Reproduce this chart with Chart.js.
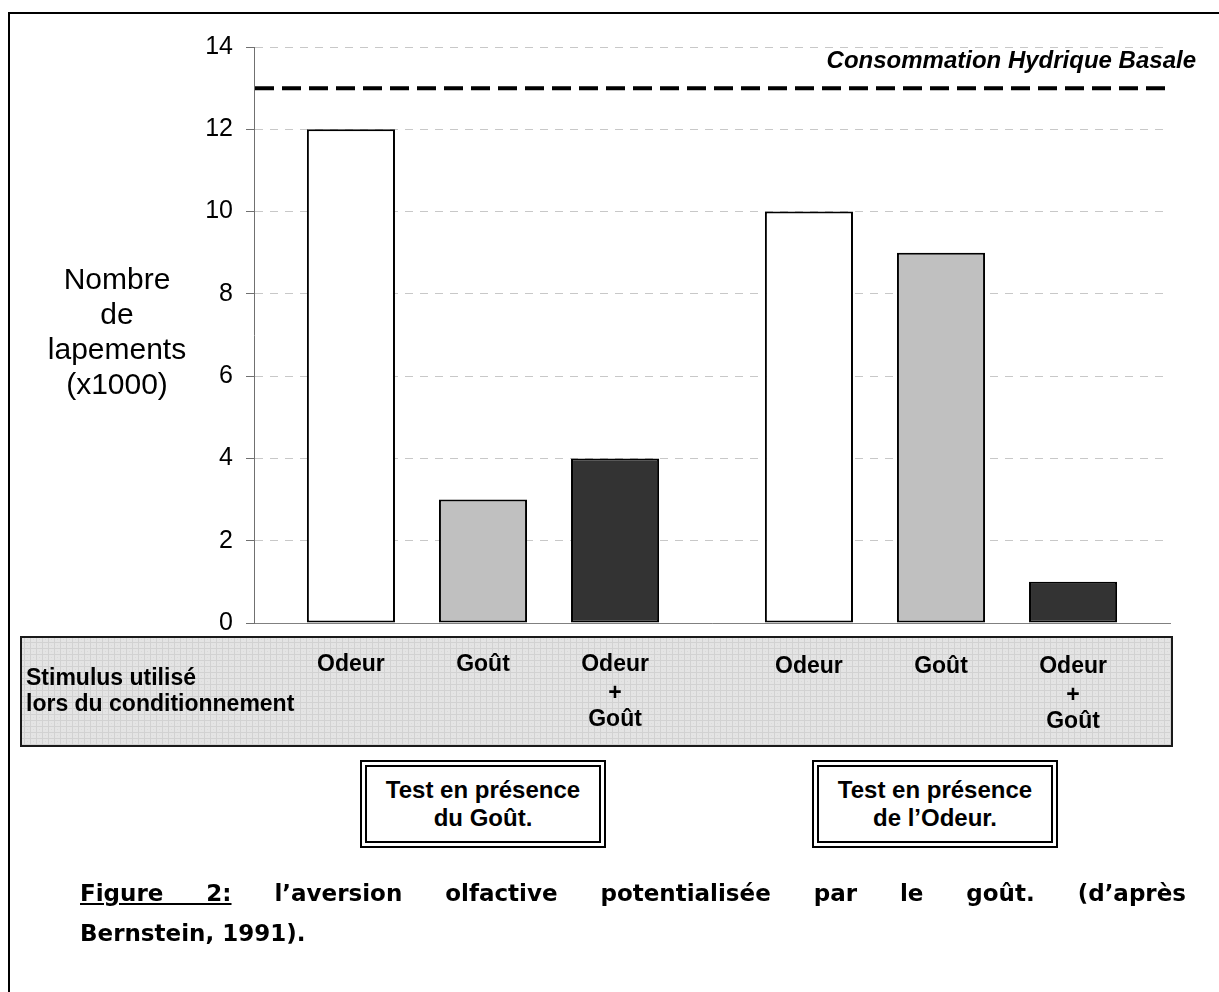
<!DOCTYPE html>
<html><head><meta charset="utf-8">
<script src="https://cdn.jsdelivr.net/npm/chart.js@4"></script>
<style>
html,body{margin:0;padding:0;background:#fff;}
#wrap{position:relative;width:1219px;height:992px;overflow:hidden;font-family:'Liberation Sans',Arial,sans-serif;color:#000;}
#c{position:absolute;left:0;top:0;}
.frame{position:absolute;left:8px;top:12px;width:1300px;height:1100px;border-left:2px solid #000;border-top:2px solid #000;}
.ytitle{position:absolute;left:37px;width:160px;top:261px;text-align:center;font-size:30px;line-height:35px;}
.basal{position:absolute;right:23px;top:46px;font-size:24px;font-weight:bold;font-style:italic;line-height:28px;white-space:nowrap;}
.stim{position:absolute;left:26px;top:664px;font-size:23px;font-weight:bold;line-height:26px;white-space:nowrap;}
.box{position:absolute;top:760px;width:246px;height:88px;box-sizing:border-box;border:7px double #000;text-align:center;font-weight:bold;font-size:24px;line-height:28px;padding-top:9px;background:#fff;}
.cap{position:absolute;left:80px;width:1106px;font-family:'DejaVu Sans',sans-serif;font-weight:bold;font-size:23px;line-height:40px;white-space:nowrap;}
.cap1{top:873px;text-align:justify;text-align-last:justify;white-space:normal;}
.cap2{top:913px;}
</style>
</head><body>
<div id="wrap">
  <canvas id="c" width="1219" height="992"></canvas>
  <div class="frame"></div>
  <div class="ytitle">Nombre<br>de<br>lapements<br>(x1000)</div>
  <div class="basal">Consommation Hydrique Basale</div>
  <div class="stim">Stimulus utilisé<br>lors du conditionnement</div>
  <div class="box" style="left:360px;">Test en présence<br>du Goût.</div>
  <div class="box" style="left:812px;">Test en présence<br>de l’Odeur.</div>
  <div class="cap cap1"><u>Figure 2:</u> l’aversion olfactive potentialisée par le goût. (d’après</div>
  <div class="cap cap2">Bernstein, 1991).</div>
</div>
<script>
// ---- data ----
const groups = ['Test en présence du Goût.', 'Test en présence de l’Odeur.'];
const stimulusNames = ['Odeur', 'Goût', 'Odeur + Goût'];
const stimulusLabelLines = [['Odeur'], ['Goût'], ['Odeur', '+', 'Goût']];
const odeurValues = [12, 10];
const goutValues = [3, 9];
const odeurGoutValues = [4, 1];
const basalValue = 13;
const yTickValues = [0, 2, 4, 6, 8, 10, 12, 14];

// ---- pattern for the stimulus band ----
function makePattern(ctx) {
  const p = document.createElement('canvas');
  p.width = 6; p.height = 6;
  const g = p.getContext('2d');
  g.fillStyle = '#e4e4e4'; g.fillRect(0, 0, 6, 6);
  g.fillStyle = '#d2d2d2';
  g.fillRect(0, 0, 6, 1); g.fillRect(0, 0, 1, 6);
  g.fillStyle = '#dadada';
  g.fillRect(3, 3, 1, 1);
  return ctx.createPattern(p, 'repeat');
}

const bandPlugin = {
  id: 'band',
  beforeDraw(chart) {
    const ctx = chart.ctx;
    ctx.save();
    ctx.fillStyle = makePattern(ctx);
    ctx.fillRect(21, 637, 1151, 109);
    ctx.lineWidth = 2;
    ctx.strokeStyle = '#1a1a1a';
    ctx.strokeRect(21, 637, 1151, 109);
    ctx.restore();
  },
  afterDatasetsDraw(chart) {
    // basal consumption reference line, placed by the y scale
    const ctx = chart.ctx, area = chart.chartArea;
    const y = chart.scales.y.getPixelForValue(basalValue);
    ctx.save();
    ctx.strokeStyle = '#000';
    ctx.lineWidth = 4;
    ctx.setLineDash([19, 8]);
    ctx.beginPath();
    ctx.moveTo(area.left + 1, y);
    ctx.lineTo(area.right - 3, y);
    ctx.stroke();
    ctx.restore();
  },
  afterDraw(chart) {
    const ctx = chart.ctx;
    ctx.save();
    ctx.font = 'bold 23px "Liberation Sans", Arial, sans-serif';
    ctx.fillStyle = '#000';
    ctx.textAlign = 'center';
    ctx.textBaseline = 'middle';
    const lineY = [665, 694, 720];
    for (let d = 0; d < 3; d++) {
      const meta = chart.getDatasetMeta(d);
      meta.data.forEach((el, j) => {
        stimulusLabelLines[d].forEach((t, k) => {
          ctx.fillText(t, el.x, lineY[k] + j * 2);
        });
      });
    }
    ctx.restore();
  }
};

const barCommon = {
  borderColor: '#000',
  borderWidth: 2,
  borderSkipped: false,
  categoryPercentage: 0.865,
  barPercentage: 0.667
};

new Chart(document.getElementById('c'), {
  type: 'bar',
  data: {
    labels: groups,
    datasets: [
      Object.assign({ label: stimulusNames[0], data: odeurValues, backgroundColor: '#ffffff' }, barCommon),
      Object.assign({ label: stimulusNames[1], data: goutValues, backgroundColor: '#c0c0c0' }, barCommon),
      Object.assign({ label: stimulusNames[2], data: odeurGoutValues, backgroundColor: '#333333' }, barCommon)
    ]
  },
  options: {
    responsive: false,
    animation: false,
    devicePixelRatio: 1,
    layout: { padding: { left: 194, top: 47, right: 49, bottom: 369 } },
    plugins: { legend: { display: false }, tooltip: { enabled: false }, title: { display: false } },
    scales: {
      x: {
        type: 'category',
        offset: true,
        grid: { display: false, drawTicks: false },
        ticks: { display: false },
        border: { display: true, color: '#808080', width: 1 },
        afterFit(s) { s.height = 0; }
      },
      y: {
        min: 0, max: 14,
        afterBuildTicks(s) { s.ticks = yTickValues.map(v => ({ value: v })); },
        afterFit(s) { s.width = 60; },
        ticks: {
          padding: 13,
          color: '#000',
          font: { family: '"Liberation Sans", Arial, sans-serif', size: 25 }
        },
        grid: { color: '#c8c8c8', lineWidth: 1, drawTicks: true, tickLength: 8, tickColor: '#707070', tickWidth: 1 },
        border: { display: true, color: '#707070', width: 1, dash: [8, 7] }
      }
    }
  },
  plugins: [bandPlugin]
});
</script>
</body></html>
